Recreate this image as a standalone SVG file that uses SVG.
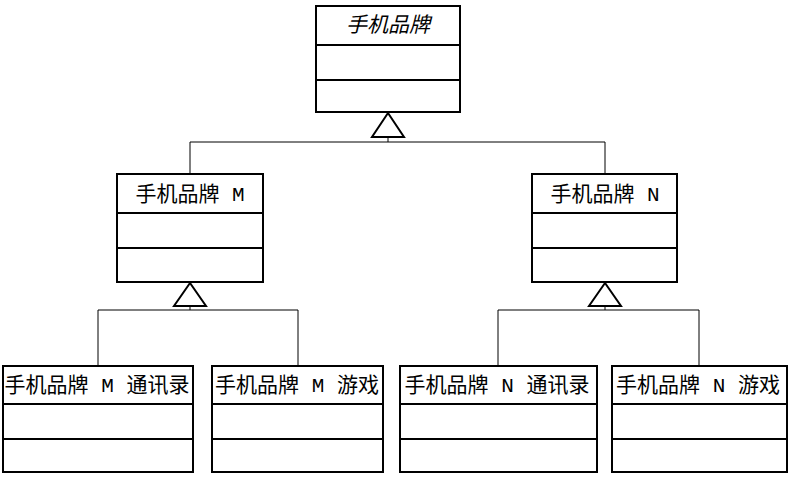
<svg xmlns="http://www.w3.org/2000/svg" width="789" height="479" viewBox="0 0 789 479">
<style>
.box{fill:#fff;stroke:#000;stroke-width:2}
.div{stroke:#000;stroke-width:2}
.lbl{font-family:"Liberation Mono","Noto Sans CJK SC",monospace;font-size:21px;fill:#000;text-anchor:middle}
.it{font-style:italic}
.con{fill:none;stroke:#000;stroke-width:1}
.tri{fill:#fff;stroke:#000;stroke-width:2}
</style>
<g id="connectors">
<polyline class="con" points="190,174 190,142 605,142 605,174"/>
<line class="con" x1="388" y1="137" x2="388" y2="142"/>
<polygon class="tri" points="388,113 372,137 404,137"/>
<polyline class="con" points="98,366 98,310 298,310 298,366"/>
<line class="con" x1="190" y1="306" x2="190" y2="310"/>
<polygon class="tri" points="190,283 174,306 206,306"/>
<polyline class="con" points="498,366 498,310 699,310 699,366"/>
<line class="con" x1="605" y1="306" x2="605" y2="310"/>
<polygon class="tri" points="605,283 589,306 621,306"/>
</g>
<g id="brand">
<rect class="box" x="316" y="6" width="144" height="106"/>
<line class="div" x1="316" y1="45" x2="460" y2="45"/>
<line class="div" x1="316" y1="80" x2="460" y2="80"/>
<text class="lbl it" x="388" y="32">手机品牌</text>
</g>
<g id="brandM">
<rect class="box" x="117" y="174" width="146" height="108"/>
<line class="div" x1="117" y1="213" x2="263" y2="213"/>
<line class="div" x1="117" y1="248" x2="263" y2="248"/>
<text class="lbl" x="190" y="201">手机品牌 M</text>
</g>
<g id="brandN">
<rect class="box" x="532" y="174" width="145" height="108"/>
<line class="div" x1="532" y1="213" x2="677" y2="213"/>
<line class="div" x1="532" y1="248" x2="677" y2="248"/>
<text class="lbl" x="605" y="201">手机品牌 N</text>
</g>
<g id="brandMContacts">
<rect class="box" x="3" y="366" width="190" height="106"/>
<line class="div" x1="3" y1="404" x2="193" y2="404"/>
<line class="div" x1="3" y1="439" x2="193" y2="439"/>
<text class="lbl" x="97" y="392">手机品牌 M 通讯录</text>
</g>
<g id="brandMGame">
<rect class="box" x="212" y="366" width="171" height="106"/>
<line class="div" x1="212" y1="404" x2="383" y2="404"/>
<line class="div" x1="212" y1="439" x2="383" y2="439"/>
<text class="lbl" x="297" y="392">手机品牌 M 游戏</text>
</g>
<g id="brandNContacts">
<rect class="box" x="400" y="366" width="197" height="106"/>
<line class="div" x1="400" y1="404" x2="597" y2="404"/>
<line class="div" x1="400" y1="439" x2="597" y2="439"/>
<text class="lbl" x="497" y="392">手机品牌 N 通讯录</text>
</g>
<g id="brandNGame">
<rect class="box" x="612" y="366" width="175" height="106"/>
<line class="div" x1="612" y1="404" x2="787" y2="404"/>
<line class="div" x1="612" y1="439" x2="787" y2="439"/>
<text class="lbl" x="698" y="392">手机品牌 N 游戏</text>
</g>
</svg>
